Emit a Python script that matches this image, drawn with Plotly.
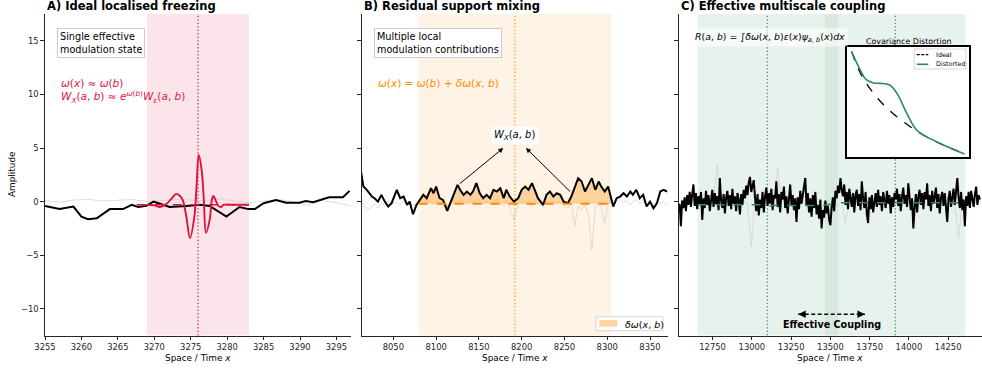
import numpy as np
import plotly.graph_objects as go

W, H = 982, 371
FONT = "DejaVu Sans"
INK = "#262626"
CRIMSON = "#dc143c"
ORANGE = "#ff8c00"
GREEN = "#2e8b57"

# ---------------- Panel A: ideal localised freezing ----------------
a_x = [3255, 3257, 3258.9, 3260, 3260.9, 3262.1, 3263.9, 3265.7, 3266.9, 3267.8,
       3268.9, 3269.9, 3271.2, 3272.1, 3274.4, 3276.2, 3277.6, 3279.9, 3281.7, 3282.9,
       3283.8, 3285.0, 3286.7, 3288.1, 3289.9, 3290.8, 3291.8, 3294.0, 3295.9, 3296.8]
a_y = [-0.4, -0.7, -0.47, -1.4, -1.65, -1.55, -0.7, -0.7, -0.3, -0.5,
       -0.4, 0.0, -0.3, -0.5, -0.4, -0.3, -0.4, -1.4, -0.5, -0.7,
       -0.7, -0.15, 0.15, -0.1, -0.1, 0.05, -0.05, 0.4, 0.4, 1.0]
a_gray_x = list(range(3255, 3298, 2))
a_gray_y = [0.1, -0.05, 0.15, 0.2, 0.05, 0.1, 0.2, 0.0, 0.1, 0.2, 0.15,
            0.05, 0.25, 0.1, -0.1, 0.05, 0.2, 0.0, -0.35, 0.1, -0.1, -0.4]
a_wave_x = [3269.0, 3270.0, 3270.8, 3271.7, 3272.4, 3273.0, 3273.5, 3273.9, 3274.4,
            3274.9, 3275.5, 3275.8, 3276.1, 3276.5, 3276.8, 3277.1, 3277.6, 3277.9,
            3278.1, 3278.5, 3278.8, 3279.2, 3279.5, 3281.0, 3283.0]
a_wave_y = [-0.3, -0.35, -0.5, -0.2, 0.3, 0.72, 0.55, 0.15, -1.4,
            -3.4, -1.4, 1.4, 4.35, 2.95, 0.15, -2.9, -1.7, 0.15,
            0.53, 0.0, -0.4, -0.5, -0.3, -0.3, -0.3]
a_omega_b = -0.3
a_baseline_x = [3267.6, 3283.0]
a_center = 3276
a_window = (3269, 3283)
a_range = [3255, 3297]
a_ticks = [3255, 3260, 3265, 3270, 3275, 3280, 3285, 3290, 3295]

# ---------------- Panel B: residual support mixing ----------------
b_x = [8012, 8015, 8019, 8025, 8028, 8032, 8036, 8040, 8044, 8048,
       8054, 8058, 8062, 8066, 8069, 8073, 8077, 8081, 8085, 8089,
       8094, 8097, 8100, 8104, 8108, 8113, 8117, 8121, 8125, 8128,
       8132, 8136, 8140, 8143, 8147, 8151, 8155, 8159, 8163, 8167,
       8171, 8175, 8179, 8182, 8186, 8191, 8196, 8200, 8204, 8208,
       8212, 8216, 8219, 8225, 8229, 8233, 8237, 8241, 8245, 8249,
       8254, 8258, 8262, 8266, 8270, 8274, 8278, 8282, 8286, 8290,
       8293, 8297, 8301, 8304, 8307, 8311, 8315, 8319, 8323, 8327,
       8330, 8334, 8338, 8342, 8346, 8350, 8354, 8358, 8362, 8366, 8370]
b_y = [2.9, 1.4, 1.1, 0.47, 0.32, 0.0, 0.63, 0.0, -0.46, -0.15,
       1.1, 0.32, 0.47, -0.31, 0.0, -1.18, -0.31, 0.16, 0.63, 0.32,
       1.25, 0.78, 1.4, 0.32, 0.16, -0.87, 0.0, 0.78, 1.56, 1.1,
       0.63, 0.94, 0.63, 0.94, 1.72, 0.78, 0.32, 0.63, 0.32, 1.1,
       0.94, 1.25, 0.32, 1.1, 0.47, 0.0, 0.32, 1.1, 1.4, 1.1,
       1.72, 0.94, 0.32, -0.31, 0.63, 0.94, 0.47, 0.78, 0.63, 0.0,
       -0.15, 0.47, 1.25, 2.18, 1.87, 0.94, 1.56, 2.18, 1.1, 1.87,
       1.4, 0.94, 1.4, 0.32, -0.46, 0.32, 0.47, 0.78, 0.47, 0.94,
       0.63, 1.1, 0.32, 0.63, -0.46, 0.0, -0.62, -0.15, 0.94, 1.1, 0.94]
b_gray_y = [0.5, -0.3, -0.8, -0.5, -0.2, -0.6, -0.1, -0.4, 0.1, -0.2,
            0.0, -0.3, 0.1, -0.2, 0.0, -0.4, -0.1, 0.1, -0.2, 0.2,
            0.0, -0.3, 0.1, -0.1, 0.2, -0.5, 0.0, 0.1, -0.2, 0.2,
            0.0, -0.3, 0.1, -0.1, 0.2, 0.0, -0.2, 0.1, -0.3, 0.0,
            0.2, -0.1, -0.4, 0.1, -0.6, -1.7, -0.3, 0.1, -0.2, 0.0,
            -0.4, 0.1, -0.2, -0.5, 0.0, -0.3, 0.1, -0.2, 0.0, -0.4,
            -0.6, -0.2, -2.3, -0.4, -0.8, -0.3, -1.2, -4.5, -0.5, -0.2,
            -0.6, -2.0, -0.3, 0.1, -0.2, 0.0, 0.2, -0.1, 0.1, -0.3,
            0.0, 0.2, -0.2, 0.1, -0.4, 0.0, -0.3, 0.1, -0.2, 0.0, -0.3]
b_omega_b = -0.2
b_center = 8192
b_window = (8079.5, 8304.5)
b_range = [8013, 8371]
b_ticks = [8050, 8100, 8150, 8200, 8250, 8300, 8350]

# ---------------- Panel C: effective multiscale coupling ----------------
c_x0, c_dx = 12540, 8
c_y = [
    -0.2, -2.3, 0.1, -0.6, 0.4, -0.9, 0.6, -0.3, 0.9, -0.5,
    0.7, 1.6, -0.4, 0.8, -0.7, 0.5, -0.2, 0.9, -1.7, 0.3,
    -0.6, 1.0, -0.3, 0.6, -0.9, 0.4, 1.1, -0.5, 0.8, -0.2,
    0.5, -0.8, 2.2, 0.1, -0.6, 0.7, -1.1, 0.4, 1.0, -0.4,
    0.6, -0.7, 1.2, -0.2, 0.5, -0.9, 0.8, 0.2, -1.2, 0.7,
    -0.3, 1.1, 0.3, 1.5, 0.6, 1.8, 2.3, 0.9, 1.4, 2.0,
    0.4, -0.9, 0.7, -1.3, 0.2, -0.6, 0.9, -1.0, 0.5, 1.3,
    -0.4, 0.8, -0.2, 1.2, -0.8, 0.6, 0.3, 1.9, -0.5, 0.7,
    -1.0, 0.9, 0.2, 1.4, -0.6, 0.5, -1.1, 0.8, 1.6, -0.3,
    0.6, -0.8, 0.3, -1.9, 0.4, -0.7, 1.0, -0.2, 0.5, 1.2,
    2.2, -0.4, 0.8, -1.0, 0.3, -1.4, 0.6, -0.6, 0.9, -1.2,
    -0.3, -1.6, 0.2, -2.5, -0.8, -1.5, 0.1, -1.1, -0.4, -1.7,
    -2.2, -0.5, 0.4, -0.9, 1.0, 0.3, 1.5, 0.8, 2.2, 1.1,
    0.5, 1.6, -0.3, 0.9, -0.7, 1.2, 0.2, -0.5, 0.8, -1.0,
    0.6, 1.1, -0.4, 0.7, -0.8, 1.9, 0.3, -0.6, 0.9, -1.2,
    -2.0, 0.4, -0.7, 0.6, -1.0, 0.2, 0.8, -0.5, 1.1, -0.3,
    0.5, -0.9, 0.9, 0.1, -0.6, 1.0, -0.2, 0.6, -1.1, 0.4,
    -0.5, 0.8, 0.2, 1.2, -0.4, 0.7, -0.9, 0.5, 1.3, -0.2,
    0.6, -0.5, 1.7, 0.4, -0.8, 0.3, -2.5, -0.6, 0.7, -1.0,
    0.5, 1.1, -0.3, 0.8, -0.7, 0.9, 0.2, 1.7, -0.4, 0.6,
    -0.9, 1.0, -0.2, 0.5, 1.3, -0.6, 0.7, -1.1, 0.4, 0.9,
    -0.4, 0.8, -0.7, -1.9, 0.3, 1.0, -0.5, 0.6, 1.2, -0.3,
    0.8, 2.2, 0.4, -0.6, 0.9, -0.8, 0.2, -2.3, 0.5, -0.4,
    0.9, -0.6, 1.0, 0.2, -0.5, 0.7, 1.4, -0.3, 0.6, 0.2,
]
c_gray_x0, c_gray_dx = 12540, 24
c_gray_y = [
    0.2, -0.3, 0.1, -0.2, 0.3, 0.0, -0.4, 0.2, -0.1, 0.3,
    3.4, -0.2, 0.1, -0.3, 0.2, 0.0, -0.5, 0.1, -0.2, -4.2,
    0.1, -0.3, 0.2, 0.0, -0.2, 0.3, 3.2, -0.1, 0.2, -0.4,
    0.0, 0.3, -0.2, 0.1, -0.6, -0.3, 0.2, -0.1, 0.0, -0.5,
    -0.3, 0.1, -0.4, 0.0, -2.0, 0.2, -0.1, 0.3, 0.0, -0.2,
    0.1, -0.3, 0.2, 0.0, -0.1, 0.3, -0.2, 0.1, 0.0, -0.3,
    0.2, -0.1, 0.0, 0.3, -0.2, 0.1, -0.4, 0.0, 0.2, -0.1,
    0.1, -0.3, 0.0, -0.2, -3.4, 0.1, -0.2, 0.3, 0.0, -0.1,
    0.2,
]
c_base_x = [12654, 13060, 13100, 13140, 13440, 13520, 13560, 14360]
c_base_y = [-0.3, -0.3, -0.45, -0.35, -0.38, -0.2, -0.1, -0.1]
c_window = (12654, 14360)
c_band = (13465, 13550)
c_marks = [13098, 13913]
c_range = [12536, 14462]
c_ticks = [12750, 13000, 13250, 13500, 13750, 14000, 14250]
c_span = (13295, 13720)

# Inset: covariance decay, ideal vs distorted
ins_ideal_x = [0.04, 0.12, 0.22, 0.33, 0.46, 0.62, 0.79, 0.96]
ins_ideal_y = [0.955, 0.74, 0.575, 0.44, 0.32, 0.2, 0.105, 0.025]
ins_dist_x = [0.04, 0.11, 0.16, 0.22, 0.27, 0.35, 0.41, 0.49, 0.57, 0.65, 0.79, 0.96]
ins_dist_y = [0.955, 0.79, 0.70, 0.67, 0.667, 0.652, 0.576, 0.395, 0.243, 0.182, 0.106, 0.025]

y_range = [-12.5, 17.5]
y_ticks = [-10, -5, 0, 5, 10, 15]


def fx(p):
    return p / W


def fy(p):
    return 1 - p / H


c_x = c_x0 + c_dx * np.arange(len(c_y))
c_gray_x = c_gray_x0 + c_gray_dx * np.arange(len(c_gray_y))
b_xa = np.array(b_x, dtype=float)
b_ya = np.array(b_y, dtype=float)
in_win = (b_xa >= b_window[0]) & (b_xa <= b_window[1])

fig = go.Figure()


def line(x, y, xa, ya, color, width, dash="solid", shape="linear", **kw):
    fig.add_trace(go.Scatter(x=x, y=y, xaxis=xa, yaxis=ya, mode="lines",
                             line=dict(color=color, width=width, dash=dash, shape=shape),
                             showlegend=False, hoverinfo="skip", **kw))


# Panel A traces
line(a_gray_x, a_gray_y, "x", "y", "rgba(200,200,200,0.6)", 1)
line(a_x, a_y, "x", "y", "black", 2)
line(a_baseline_x, [a_omega_b] * 2, "x", "y", CRIMSON, 1.6, dash="dash")
line(a_wave_x, a_wave_y, "x", "y", CRIMSON, 1.9, shape="spline")

# Panel B traces
line(b_x, b_gray_y, "x2", "y2", "rgba(200,200,200,0.6)", 1)
line(b_xa[in_win], [b_omega_b] * int(in_win.sum()), "x2", "y2", "rgba(0,0,0,0)", 0)
fig.add_trace(go.Scatter(x=b_xa[in_win], y=b_ya[in_win], xaxis="x2", yaxis="y2",
                         mode="lines", line=dict(width=0, color="rgba(0,0,0,0)"),
                         fill="tonexty", fillcolor="rgba(255,140,0,0.32)",
                         showlegend=False, hoverinfo="skip"))
line(b_x, b_y, "x2", "y2", "black", 2)
line([b_window[0], b_window[1]], [b_omega_b] * 2, "x2", "y2", ORANGE, 1.8, dash="dash")

# Panel C traces
line(c_gray_x, c_gray_y, "x3", "y3", "rgba(200,200,200,0.6)", 1)
line(c_x, c_y, "x3", "y3", "black", 2)
line(c_base_x, c_base_y, "x3", "y3", GREEN, 1.5, dash="dash")

# Inset traces
line(ins_ideal_x, ins_ideal_y, "x4", "y4", "black", 1.3, dash="dash", shape="spline")
line(ins_dist_x, ins_dist_y, "x4", "y4", GREEN, 1.6, shape="spline")

# Shapes: shaded supports, markers
shapes = []
DOT = "1.3px,2.2px"


def vband(xref, x0, x1, color):
    shapes.append(dict(type="rect", xref=xref, yref=f"{xref.replace('x', 'y')} domain",
                       x0=x0, x1=x1, y0=0, y1=1, fillcolor=color, line=dict(width=0),
                       layer="below"))


def vmark(xref, x, color):
    shapes.append(dict(type="line", xref=xref, yref=f"{xref.replace('x', 'y')} domain",
                       x0=x, x1=x, y0=0, y1=1, line=dict(color=color, width=1.2, dash=DOT),
                       layer="below"))


vband("x", a_window[0], a_window[1], "rgba(220,20,60,0.11)")
vmark("x", a_center, CRIMSON)
vband("x2", b_window[0], b_window[1], "rgba(255,140,0,0.10)")
vmark("x2", b_center, ORANGE)
vband("x3", c_window[0], c_window[1], "rgba(46,139,87,0.11)")
vband("x3", c_band[0], c_band[1], "rgba(46,139,87,0.09)")
for m in c_marks:
    vmark("x3", m, GREEN)

# white face of the inset
shapes.append(dict(type="rect", xref="x4", yref="y4", x0=0, x1=1, y0=0, y1=1,
                   fillcolor="white", line=dict(width=0), layer="below"))

# dashed coupling span
shapes.append(dict(type="line", xref="x3", yref="y3", x0=c_span[0], x1=c_span[1],
                   y0=-10.5, y1=-10.5, line=dict(color="black", width=1.5, dash="4px,2.5px")))

# Legend for panel B (patch + label)
shapes.append(dict(type="rect", xref="paper", yref="paper", x0=fx(596), x1=fx(663),
                   y0=fy(330.7), y1=fy(316.7), fillcolor="rgba(255,255,255,0.85)",
                   line=dict(color="#cccccc", width=0.8), layer="above"))
shapes.append(dict(type="rect", xref="paper", yref="paper", x0=fx(599.3), x1=fx(617.3),
                   y0=fy(326.7), y1=fy(320), fillcolor="rgba(255,140,0,0.35)",
                   line=dict(width=0), layer="above"))

# Inset legend
shapes.append(dict(type="rect", xref="paper", yref="paper", x0=fx(914.3), x1=fx(966),
                   y0=fy(69), y1=fy(49), fillcolor="rgba(255,255,255,0.85)",
                   line=dict(color="#cccccc", width=0.8), layer="above"))
shapes.append(dict(type="line", xref="paper", yref="paper", x0=fx(916.7), x1=fx(928.3),
                   y0=fy(54.7), y1=fy(54.7), line=dict(color="black", width=1.3, dash="3px,1.5px"),
                   layer="above"))
shapes.append(dict(type="line", xref="paper", yref="paper", x0=fx(916.7), x1=fx(928.3),
                   y0=fy(64.3), y1=fy(64.3), line=dict(color=GREEN, width=1.6),
                   layer="above"))

ann = []


def text(x, y, s, size, color="black", xanchor="left", yanchor="middle", **kw):
    ann.append(dict(x=x, y=y, xref=kw.pop("xref", "paper"), yref=kw.pop("yref", "paper"),
                    text=s, showarrow=False, xanchor=xanchor, yanchor=yanchor,
                    font=dict(family=FONT, size=size, color=color), **kw))


# Panel titles
text(fx(45), fy(6), "<b>A) Ideal localised freezing</b>", 11.5)
text(fx(362), fy(6), "<b>B) Residual support mixing</b>", 11.5)
text(fx(678.5), fy(6), "<b>C) Effective multiscale coupling</b>", 11.5)

# Axis titles
text(fx(12), fy(175), "Amplitude", 8.9, xanchor="center", textangle=-90)
for cx in (198, 515, 830):
    text(fx(cx), fy(358), "Space / Time <i>x</i>", 8.9, xanchor="center")

# Panel A annotations
text(fx(57), fy(27.7), "Single effective<br>modulation state", 9.7, yanchor="top",
     align="left", bgcolor="white", bordercolor="#cccccc", borderwidth=1, borderpad=2)
text(fx(59), fy(83.3), "<i>ω</i>(<i>x</i>) ≈ <i>ω</i>(<i>b</i>)", 10.5, color=CRIMSON)
text(fx(59), fy(97.5),
     "<i>W<sub>X</sub></i>(<i>a</i>, <i>b</i>) ≈ <i>e</i><sup><i>ω</i>(<i>b</i>)</sup>"
     "<i>W<sub>ε</sub></i>(<i>a</i>, <i>b</i>)", 10.5, color=CRIMSON)

# Panel B annotations
text(fx(374.3), fy(28), "Multiple local<br>modulation contributions", 9.7, yanchor="top",
     align="left", bgcolor="white", bordercolor="#cccccc", borderwidth=1, borderpad=2)
text(fx(376), fy(83), "<i>ω</i>(<i>x</i>) = <i>ω</i>(<i>b</i>) + <i>δω</i>(<i>x</i>, <i>b</i>)",
     10.5, color=ORANGE)
text(8191.3, 6.14, "<i>W<sub>X</sub></i>(<i>a</i>, <i>b</i>)", 10, xanchor="center",
     xref="x2", yref="y2", bgcolor="white", borderpad=2)
for tail, head in (((8126, 1.56), (8178.5, 5.0)), ((8258.4, 0.79), (8205, 5.0))):
    ann.append(dict(x=head[0], y=head[1], ax=tail[0], ay=tail[1], xref="x2", yref="y2",
                    axref="x2", ayref="y2", text="", showarrow=True, arrowhead=2,
                    arrowsize=1, arrowwidth=1, arrowcolor="black"))
text(fx(623.3), fy(324), "<i>δω</i>(<i>x</i>, <i>b</i>)", 9.5)

# Panel C annotations
text(fx(692), fy(37.5),
     "<i>R</i>(<i>a</i>, <i>b</i>) = ∫<i>δω</i>(<i>x</i>, <i>b</i>)<i>ε</i>(<i>x</i>)"
     "<i>ψ</i><sub><i>a</i>, <i>b</i></sub>(<i>x</i>)<i>dx</i>", 9.4,
     bgcolor="rgba(255,255,255,0.6)", borderpad=2)
text(fx(908), fy(41.3), "Covariance Distortion", 7.9, xanchor="center")
text(fx(934), fy(54.7), "Ideal", 6.4)
text(fx(934), fy(64.3), "Distorted", 6.4)
text((c_span[0] + c_span[1]) / 2, -11.45, "<b>Effective Coupling</b>", 9.6,
     xanchor="center", xref="x3", yref="y3")
for tip, back in ((c_span[0], c_span[0] + 40), (c_span[1], c_span[1] - 40)):
    ann.append(dict(x=tip, y=-10.5, ax=back, ay=-10.5, xref="x3", yref="y3",
                    axref="x3", ayref="y3", text="", showarrow=True, arrowhead=2,
                    arrowsize=1, arrowwidth=1.5, arrowcolor="black"))

ydom = [fy(335.6), fy(14)]
tickfont = dict(family=FONT, size=8.4, color=INK)


def xaxis(dom, rng, ticks, anchor):
    return dict(domain=dom, range=rng, anchor=anchor, tickvals=ticks,
                ticktext=[str(t) for t in ticks], ticks="outside",
                ticklen=3.5, tickwidth=1, tickcolor=INK, showline=True, linecolor=INK,
                linewidth=1.3, showgrid=False, zeroline=False, tickfont=tickfont)


def yaxis(anchor, labels):
    return dict(domain=ydom, range=y_range, anchor=anchor, tickvals=y_ticks,
                ticks="outside", ticklen=3.5, tickwidth=1, tickcolor=INK, showline=True,
                linecolor=INK, linewidth=1.3, showgrid=False, zeroline=False,
                showticklabels=labels, tickfont=tickfont)


fig.update_layout(
    width=W, height=H, margin=dict(l=0, r=0, t=0, b=0, autoexpand=False),
    paper_bgcolor="white", plot_bgcolor="white",
    font=dict(family=FONT, color=INK),
    showlegend=False,
    xaxis=xaxis([fx(45), fx(351)], a_range, a_ticks, "y"),
    yaxis=yaxis("x", True),
    xaxis2=xaxis([fx(361.7), fx(668)], b_range, b_ticks, "y2"),
    yaxis2=yaxis("x2", False),
    xaxis3=xaxis([fx(679), fx(981.5)], c_range, c_ticks, "y3"),
    yaxis3=yaxis("x3", False),
    xaxis4=dict(domain=[fx(846.7), fx(969.3)], range=[0, 1], anchor="y4",
                showticklabels=False, ticks="", showgrid=False, zeroline=False,
                showline=True, mirror=True, linecolor="black", linewidth=1.5),
    yaxis4=dict(domain=[fy(156.7), fy(46.7)], range=[0, 1], anchor="x4",
                showticklabels=False, ticks="", showgrid=False, zeroline=False,
                showline=True, mirror=True, linecolor="black", linewidth=1.5),
    shapes=shapes, annotations=ann,
)

fig.write_html("out.html")
